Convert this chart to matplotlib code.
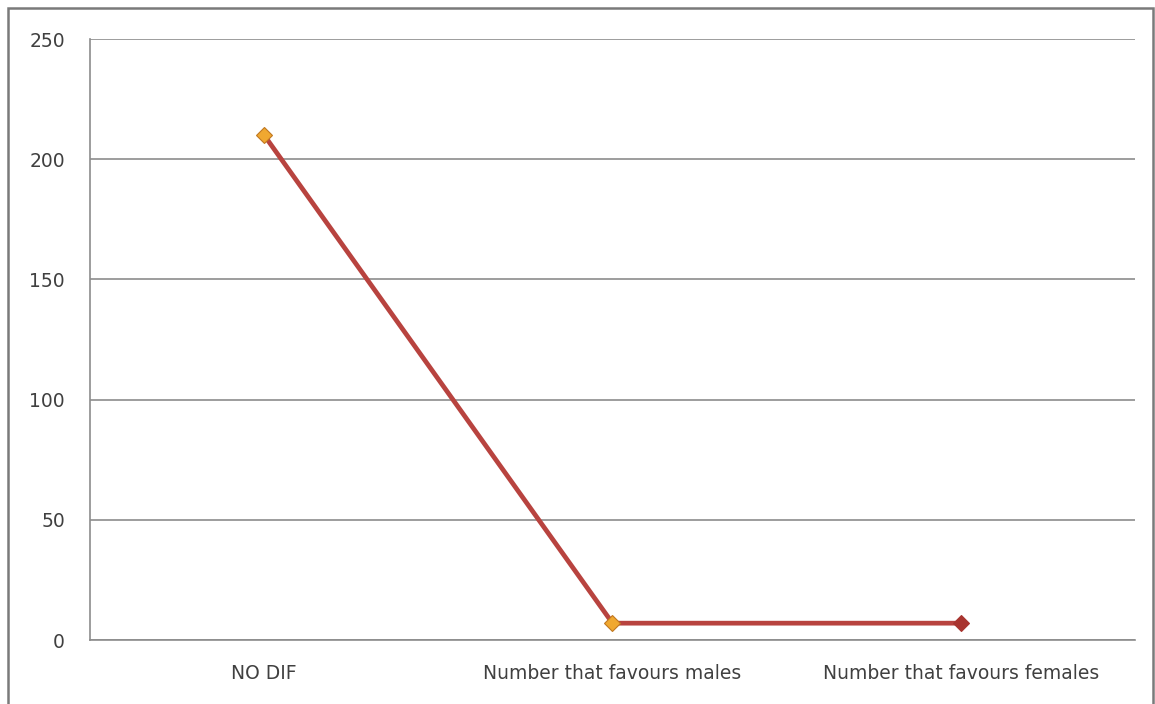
import numpy as np
import matplotlib.pyplot as plt
from matplotlib.patches import Rectangle

categories = ['NO DIF', 'Number that favours males', 'Number that favours females']
counts = [210, 7, 7]
marker_colors = ['#f0a830', '#f0a830', '#a8342f']
yticks = [0, 50, 100, 150, 200, 250]

fig = plt.figure(figsize=(11.55, 7.04), dpi=100)
ax = fig.add_axes([0.0779, 0.0909, 0.9048, 0.8537])

# outer chart frame
fig.patches.append(Rectangle((0.007, -0.01), 0.991, 0.999, transform=fig.transFigure,
                             fill=False, edgecolor='#7a7a7a', linewidth=1.8))

x = np.arange(len(categories))
ax.plot(x, counts, color='#b8433f', linewidth=3.4, zorder=3, solid_capstyle='round')
for xi, yi, c in zip(x, counts, marker_colors):
    ax.plot(xi, yi, marker='D', markersize=8, color=c,
            markeredgecolor='#c07820' if c != '#a8342f' else '#a8342f',
            markeredgewidth=0.8, zorder=4)

ax.set_xlim(-0.5, 2.5)
ax.set_ylim(0, 250)
ax.set_yticks(yticks)
ax.set_xticks(x)
ax.set_xticklabels(categories)
ax.yaxis.grid(True, color='#8c8c8c', linewidth=1.2)
ax.set_axisbelow(True)

for s in ['top', 'right']:
    ax.spines[s].set_visible(False)
ax.spines['left'].set_color('#8c8c8c')
ax.spines['bottom'].set_color('#8c8c8c')
ax.spines['left'].set_linewidth(1.2)
ax.spines['bottom'].set_linewidth(1.2)

ax.tick_params(axis='both', length=0, labelsize=13.5, labelcolor='#404040')
ax.tick_params(axis='y', pad=18)
ax.tick_params(axis='x', pad=17)

fig.savefig('out.png', dpi=100)
